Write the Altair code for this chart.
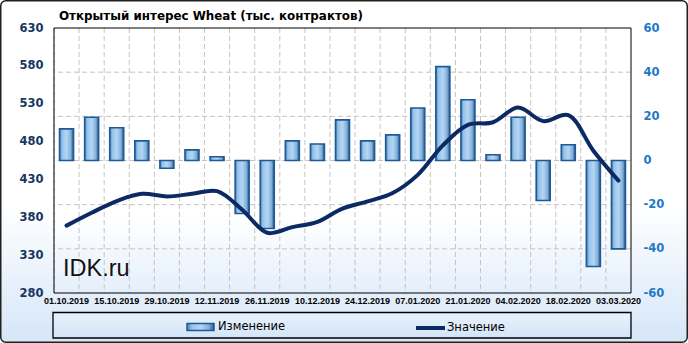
import altair as alt
import pandas as pd

dates = ["01.10.2019", "08.10.2019", "15.10.2019", "22.10.2019", "29.10.2019",
         "05.11.2019", "12.11.2019", "19.11.2019", "26.11.2019", "03.12.2019",
         "10.12.2019", "17.12.2019", "24.12.2019", "31.12.2019", "07.01.2020",
         "14.01.2020", "21.01.2020", "28.01.2020", "04.02.2020", "11.02.2020",
         "18.02.2020", "25.02.2020", "03.03.2020"]
change = [14.3, 19.6, 14.8, 8.9, -3.5, 4.8, 1.7, -24.0, -30.8, 8.9, 7.5, 18.4,
          8.9, 11.6, 23.8, 42.5, 27.5, 2.6, 19.6, -18.1, 7.1, -48.0, -40.0]
value = [369, 386, 401.5, 411, 407.5, 411, 414.5, 390, 359.5, 367, 374, 391.5,
         401, 412, 436, 475, 502, 505.5, 525, 507, 515, 468, 428.5]
left_ticks = [280, 330, 380, 430, 480, 530, 580, 630]
right_ticks = [-60, -40, -20, 0, 20, 40, 60]
grid_vals = [-40, -20, 0, 20, 40]
title_text = "Открытый  интерес Wheat (тыс. контрактов)"
bar_name = "Изменение"
line_name = "Значение"

W, H = 577, 265
df = pd.DataFrame({"date": dates, "chg": change, "val": value})
one = pd.DataFrame({"a": [0]})

label_list = "[" + ",".join("'%s'" % d for d in dates) + "]"
xscale = alt.Scale(paddingInner=0, paddingOuter=0)
xaxis = alt.Axis(
    title=None, labelAngle=0, ticks=False, domain=False, grid=False,
    labelExpr="indexof(%s, datum.value) %% 2 == 0 ? datum.label : ''" % label_list,
    labelFont="Liberation Sans", labelFontWeight="bold", labelFontSize=9,
    labelColor="black", labelPadding=3, labelOverlap=False, labelBound=False,
    zindex=1,
)
X = alt.X("date:N", sort=dates, scale=xscale, axis=xaxis)


def vgrad(stops):
    return alt.Gradient(
        gradient="linear", x1=0, x2=0, y1=0, y2=1,
        stops=[alt.GradientStop(color=c, offset=o) for o, c in stops],
    )


outer_bg = alt.Chart(one).mark_rect(
    fill=vgrad([(0, "#ffffff"), (0.6, "#ffffff"), (1, "#d5e6f8")]),
    stroke="#202020", strokeWidth=1.5, cornerRadius=5,
).encode(x=alt.value(-53.25), x2=alt.value(633.25), y=alt.value(-27.25), y2=alt.value(314.25))

legend_box = alt.Chart(one).mark_rect(
    fill=vgrad([(0, "#e8f2fc"), (1, "#d3e5f7")]),
    stroke="black", strokeWidth=1.3,
).encode(x=alt.value(-1), x2=alt.value(577), y=alt.value(284.5), y2=alt.value(310))

plot_bg = alt.Chart(one).mark_rect(
    fill=vgrad([(0, "#ffffff"), (0.72, "#ffffff"), (1, "#e4effb")]),
).encode(x=alt.value(0), x2=alt.value(W), y=alt.value(0), y2=alt.value(H))

vgrid = alt.Chart(df).mark_rule(color="#c4c4c4", strokeDash=[5, 3], strokeWidth=1).encode(
    x=alt.X("date:N", sort=dates, scale=xscale, axis=xaxis, bandPosition=0)
)

hgrid = alt.Chart(pd.DataFrame({"g": grid_vals})).mark_rule(
    color="#c4c4c4", strokeDash=[5, 3], strokeWidth=1
).encode(y=alt.Y("g:Q", scale=alt.Scale(domain=[-60, 60], nice=False, zero=False), axis=None))

frame = alt.Chart(one).mark_rect(fill="transparent", stroke="black", strokeWidth=1).encode(
    x=alt.value(0), x2=alt.value(W), y=alt.value(0), y2=alt.value(H)
)

bar_fill = alt.Gradient(
    gradient="linear", x1=0, x2=1, y1=0, y2=0,
    stops=[
        alt.GradientStop(color="#4a7db3", offset=0),
        alt.GradientStop(color="#96c2ea", offset=0.18),
        alt.GradientStop(color="#b5d6f3", offset=0.5),
        alt.GradientStop(color="#84b1dc", offset=0.8),
        alt.GradientStop(color="#2c5684", offset=1),
    ],
)

bars = alt.Chart(df).mark_bar(fill=bar_fill, strokeWidth=1.6, size=14).transform_calculate(
    s1="'%s'" % bar_name
).encode(
    x=X,
    y=alt.Y("chg:Q", scale=alt.Scale(domain=[-60, 60], nice=False),
            axis=alt.Axis(orient="right", values=right_ticks, title=None, grid=False,
                          domain=False, ticks=False, labelExpr="'' + datum.value",
                          labelFont="DejaVu Sans", labelFontWeight="bold", labelFontSize=11.5,
                          labelColor="#1f77c8", labelPadding=12, zindex=1)),
    stroke=alt.Stroke("s1:N", scale=alt.Scale(domain=[bar_name], range=["#1d5a96"]),
                      legend=alt.Legend(orient="none", legendX=132, legendY=284.5, title=None,
                                        symbolType="M-1,-0.26L1,-0.26L1,0.26L-1,0.26Z",
                                        symbolSize=729, symbolStrokeWidth=1.5,
                                        symbolFillColor="#9cc6ec",
                                        labelFont="DejaVu Sans", labelFontSize=11.5,
                                        labelColor="black", labelOffset=3, padding=0, zindex=1)),
)

line = alt.Chart(df).mark_line(strokeWidth=4, interpolate="catmull-rom", strokeCap="round").transform_calculate(
    s2="'%s'" % line_name
).encode(
    x=X,
    y=alt.Y("val:Q", scale=alt.Scale(domain=[280, 630], nice=False, zero=False),
            axis=alt.Axis(orient="left", values=left_ticks, title=None, grid=False,
                          domain=False, ticks=False,
                          labelFont="DejaVu Sans", labelFontWeight="bold", labelFontSize=11.5,
                          labelColor="#17375e", labelPadding=11, zindex=1)),
    color=alt.Color("s2:N", scale=alt.Scale(domain=[line_name], range=["#0b2a63"]),
                    legend=alt.Legend(orient="none", legendX=360, legendY=283.5, title=None,
                                      symbolType="stroke", symbolSize=841, symbolStrokeWidth=4,
                                      labelFont="DejaVu Sans", labelFontSize=11.5,
                                      labelColor="black", labelOffset=0, padding=0, zindex=1)),
)

watermark = alt.Chart(one).mark_text(
    text="IDK.ru", font="Liberation Sans", fontSize=23.5, color="#111111",
    align="left", baseline="alphabetic",
).encode(x=alt.value(9), y=alt.value(248))

title = alt.Chart(one).mark_text(
    text=title_text, font="DejaVu Sans", fontSize=11.9, fontWeight="bold", color="black",
    align="left", baseline="alphabetic",
).encode(x=alt.value(5), y=alt.value(-8.5))

chart = alt.layer(
    outer_bg, legend_box, plot_bg, vgrid, hgrid, frame, bars, line, watermark, title
).resolve_scale(
    y="independent", color="independent", stroke="independent"
).properties(
    width=W, height=H,
    autosize=alt.AutoSizeParams(type="none"),
    padding={"left": 54, "top": 28, "right": 57, "bottom": 50},
).configure(background="white").configure_view(stroke=None)

chart.save("out.html", embed_options={"renderer": "svg", "actions": False})
